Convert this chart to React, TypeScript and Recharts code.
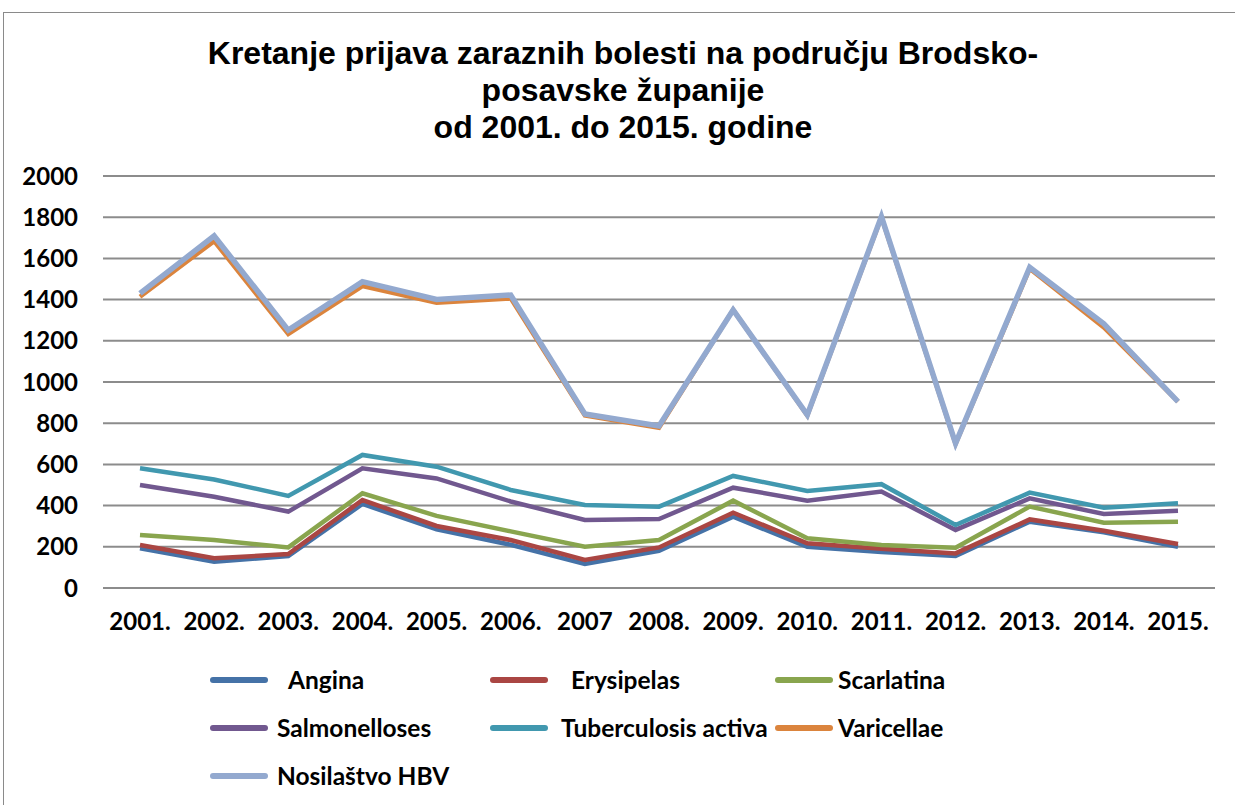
import React from "react";
import { LineChart, Line, XAxis, YAxis, CartesianGrid } from "recharts";

const years = [
  "2001.", "2002.", "2003.", "2004.", "2005.", "2006.", "2007", "2008.",
  "2009.", "2010.", "2011.", "2012.", "2013.", "2014.", "2015.",
];

const angina = [193, 128, 155, 408, 285, 210, 117, 181, 346, 200, 175, 155, 322, 270, 200];
const erysipelas = [209, 144, 165, 427, 301, 233, 136, 197, 366, 217, 190, 168, 333, 278, 214];
const scarlatina = [257, 233, 197, 460, 350, 275, 200, 233, 424, 241, 209, 196, 395, 317, 322];
const salmonelloses = [500, 443, 371, 581, 532, 420, 330, 335, 487, 424, 468, 282, 435, 359, 375];
const tuberculosis = [581, 527, 447, 646, 589, 476, 403, 395, 544, 471, 504, 306, 463, 390, 411];
const varicellae = [1414, 1684, 1233, 1466, 1385, 1406, 838, 778, 1350, 838, 1800, 700, 1550, 1265, 905];
const hbv = [1430, 1709, 1252, 1487, 1401, 1422, 845, 786, 1350, 840, 1803, 702, 1557, 1282, 905];

const yTicks = [0, 200, 400, 600, 800, 1000, 1200, 1400, 1600, 1800, 2000];

const series = [
  { key: "Angina", values: angina, color: "#4572A7" },
  { key: "Erysipelas", values: erysipelas, color: "#AA4643" },
  { key: "Scarlatina", values: scarlatina, color: "#89A54E" },
  { key: "Salmonelloses", values: salmonelloses, color: "#71588F" },
  { key: "Tuberculosis activa", values: tuberculosis, color: "#4198AF" },
  { key: "Varicellae", values: varicellae, color: "#DB843D" },
  { key: "Nosilaštvo HBV", values: hbv, color: "#93A9CF" },
];

const data = years.map((year, i) => {
  const row: Record<string, string | number> = { year };
  series.forEach((s) => {
    row[s.key] = s.values[i];
  });
  return row;
});

const titleFont = "'Liberation Sans', Arial, sans-serif";
const labelFont = "Lato, 'Open Sans', sans-serif";

// legend layout: 3 columns, swatch x / text x
const legendCols = [
  { swatch: 210, text: 277 },
  { swatch: 490, text: 561 },
  { swatch: 775, text: 838 },
];
const legendRows = [680, 728, 776];
const legendIndent: Record<string, number> = { Angina: 11, Erysipelas: 10 };

const tickStyle = { fontSize: 24, fontWeight: "bold", fill: "#000", fontFamily: labelFont };

export default function App() {
  return (
    <div
      style={{
        position: "fixed",
        left: 0,
        top: 0,
        width: 1235,
        height: 805,
        overflow: "hidden",
        background: "#fff",
      }}
    >
      <div
        style={{
          position: "absolute",
          left: 3,
          top: 12,
          width: 1400,
          height: 1000,
          border: "1.5px solid #8a8a8a",
        }}
      />
      <div
        style={{
          position: "absolute",
          left: 123,
          top: 35,
          width: 1000,
          textAlign: "center",
          fontFamily: titleFont,
          fontWeight: "bold",
          fontSize: 32,
          lineHeight: "37px",
          color: "#000",
        }}
      >
        Kretanje prijava zaraznih bolesti na području Brodsko-
        <br />
        posavske županije
        <br />
        od 2001. do 2015. godine
      </div>
      <div style={{ position: "absolute", left: 0, top: 0 }}>
        <LineChart
          width={1235}
          height={805}
          data={data}
          margin={{ top: 176, right: 20, bottom: 177, left: 0 }}
        >
          <CartesianGrid vertical={false} stroke="#8c8c8c" strokeWidth={2} />
          <XAxis
            dataKey="year"
            height={40}
            padding={{ left: 37, right: 37 }}
            axisLine={{ stroke: "#8c8c8c", strokeWidth: 2 }}
            tickLine={false}
            tickSize={0}
            tickMargin={25}
            interval={0}
            tick={tickStyle}
          />
          <YAxis
            width={103}
            domain={[0, 2000]}
            ticks={yTicks}
            axisLine={false}
            tickLine={false}
            tickSize={0}
            tickMargin={25}
            tick={tickStyle}
          />
          {series.map((s) => (
            <Line
              key={s.key}
              dataKey={s.key}
              stroke={s.color}
              strokeWidth={s.key === "Nosilaštvo HBV" ? 5.5 : 4.5}
              dot={false}
              activeDot={false}
              isAnimationActive={false}
            />
          ))}
        </LineChart>
      </div>
      {series.map((s, i) => {
        const col = legendCols[i % 3];
        const y = legendRows[Math.floor(i / 3)];
        return (
          <React.Fragment key={s.key}>
            <div
              style={{
                position: "absolute",
                left: col.swatch,
                top: y - 3,
                width: 58,
                height: 6,
                borderRadius: 3,
                background: s.color,
              }}
            />
            <div
              style={{
                position: "absolute",
                left: col.text + (legendIndent[s.key] || 0),
                top: y - 15,
                fontFamily: labelFont,
                fontSize: 24.5,
                lineHeight: "30px",
                fontWeight: "bold",
                color: "#000",
                whiteSpace: "nowrap",
              }}
            >
              {s.key}
            </div>
          </React.Fragment>
        );
      })}
    </div>
  );
}
